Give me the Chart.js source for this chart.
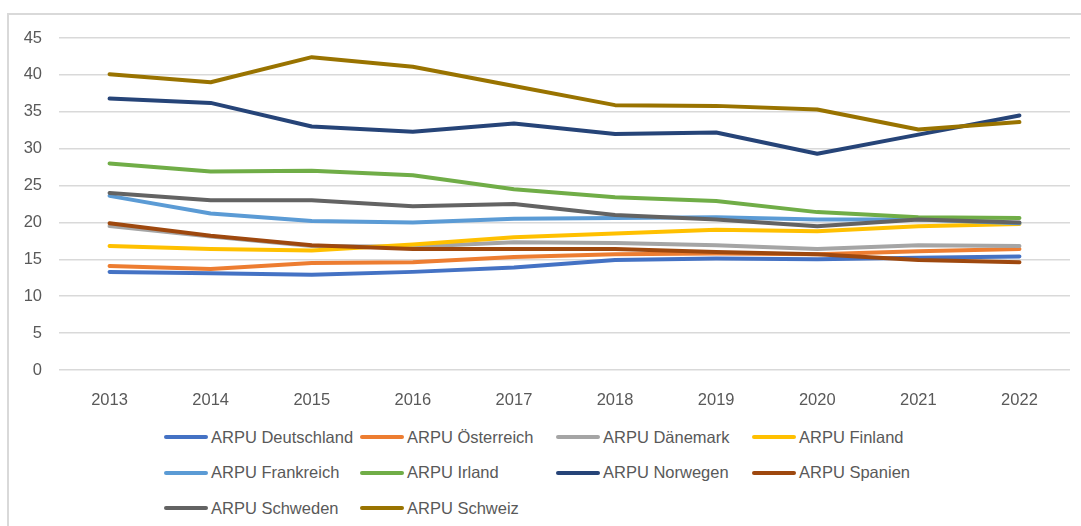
<!DOCTYPE html>
<html lang="de">
<head>
<meta charset="UTF-8">
<title>ARPU</title>
<script src="https://cdn.jsdelivr.net/npm/chart.js@4"></script>
<style>
  html, body { margin: 0; padding: 0; background: #fff; }
  body { width: 1081px; height: 526px; position: relative; overflow: hidden; font-family: "Liberation Sans", Arial, sans-serif; }
  .frame { position: absolute; left: 7px; top: 13px; width: 1200px; height: 600px; border-left: 2px solid #d9d9d9; border-top: 2px solid #d9d9d9; }
  .plot { position: absolute; left: 0; top: 0; width: 1081px; height: 410px; }
  #legend { position: absolute; left: 164px; top: 427px; display: grid; grid-template-columns: repeat(4, 196px); grid-auto-rows: 35.5px; }
  .item { display: flex; align-items: center; height: 20px; font-size: 16.5px; color: #595959; white-space: nowrap; }
  .swatch { width: 44px; height: 4px; border-radius: 2px; margin-right: 3px; }
</style>
</head>
<body>
<div class="frame"></div>
<div class="plot"><canvas id="chart" width="1081" height="410"></canvas></div>
<div id="legend"></div>
<script>
// values
const years = ['2013', '2014', '2015', '2016', '2017', '2018', '2019', '2020', '2021', '2022'];
const yTicks = [0, 5, 10, 15, 20, 25, 30, 35, 40, 45];

const deutschland = [13.3, 13.1, 12.9, 13.3, 13.9, 14.9, 15.1, 15.0, 15.2, 15.4];
const oesterreich = [14.1, 13.7, 14.5, 14.6, 15.3, 15.7, 15.8, 15.7, 16.1, 16.4];
const daenemark   = [19.5, 18.1, 16.8, 16.7, 17.3, 17.2, 16.9, 16.4, 16.9, 16.8];
const finland     = [16.8, 16.4, 16.2, 17.0, 18.0, 18.5, 19.0, 18.8, 19.5, 19.8];
const frankreich  = [23.6, 21.2, 20.2, 20.0, 20.5, 20.6, 20.7, 20.4, 20.4, 19.9];
const irland      = [28.0, 26.9, 27.0, 26.4, 24.5, 23.4, 22.9, 21.4, 20.7, 20.6];
const norwegen    = [36.8, 36.2, 33.0, 32.3, 33.4, 32.0, 32.2, 29.3, 31.9, 34.5];
const spanien     = [19.9, 18.2, 16.9, 16.4, 16.4, 16.4, 16.0, 15.7, 14.9, 14.6];
const schweden    = [24.0, 23.0, 23.0, 22.2, 22.5, 21.0, 20.4, 19.5, 20.4, 20.0];
const schweiz     = [40.1, 39.0, 42.4, 41.1, 38.5, 35.9, 35.8, 35.3, 32.6, 33.6];

const seriesNames = ['ARPU Deutschland', 'ARPU Österreich', 'ARPU Dänemark', 'ARPU Finland',
  'ARPU Frankreich', 'ARPU Irland', 'ARPU Norwegen', 'ARPU Spanien', 'ARPU Schweden', 'ARPU Schweiz'];
const seriesData = [deutschland, oesterreich, daenemark, finland, frankreich, irland, norwegen, spanien, schweden, schweiz];
const seriesColors = ['#4472C4', '#ED7D31', '#A5A5A5', '#FFC000', '#5B9BD5', '#70AD47', '#264478', '#9E480E', '#636363', '#997300'];

// later series on top, like the original
const datasets = seriesNames.map((name, i) => ({
  label: name,
  data: seriesData[i],
  borderColor: seriesColors[i],
  backgroundColor: seriesColors[i],
  borderWidth: 4,
  borderCapStyle: 'round',
  borderJoinStyle: 'round',
  pointRadius: 0,
  tension: 0,
  order: seriesNames.length - i
}));

const chart = new Chart(document.getElementById('chart'), {
  type: 'line',
  data: { labels: years, datasets: datasets },
  options: {
    responsive: false,
    animation: false,
    layout: { padding: { top: 38, right: 11, left: 0, bottom: 0 } },
    plugins: { legend: { display: false }, tooltip: { enabled: false } },
    scales: {
      x: {
        offset: true,
        grid: { display: false },
        border: { display: false },
        ticks: { color: '#595959', font: { family: 'Liberation Sans', size: 16.5 }, padding: 13, maxRotation: 0 },
        afterFit: s => { s.height = 40; }
      },
      y: {
        min: 0,
        max: 45,
        afterBuildTicks: s => { s.ticks = yTicks.map(v => ({ value: v })); },
        grid: { color: '#d9d9d9', lineWidth: 1.5, drawTicks: false },
        border: { display: false },
        ticks: { color: '#595959', font: { family: 'Liberation Sans', size: 16.5 }, padding: 17 },
        afterFit: s => { s.width = 59; }
      }
    }
  }
});

// legend laid out in a 4-column grid like the original
const legend = document.getElementById('legend');
chart.data.datasets.forEach(ds => {
  const item = document.createElement('div');
  item.className = 'item';
  const sw = document.createElement('span');
  sw.className = 'swatch';
  sw.style.background = ds.borderColor;
  item.appendChild(sw);
  item.appendChild(document.createTextNode(ds.label));
  legend.appendChild(item);
});
</script>
</body>
</html>
